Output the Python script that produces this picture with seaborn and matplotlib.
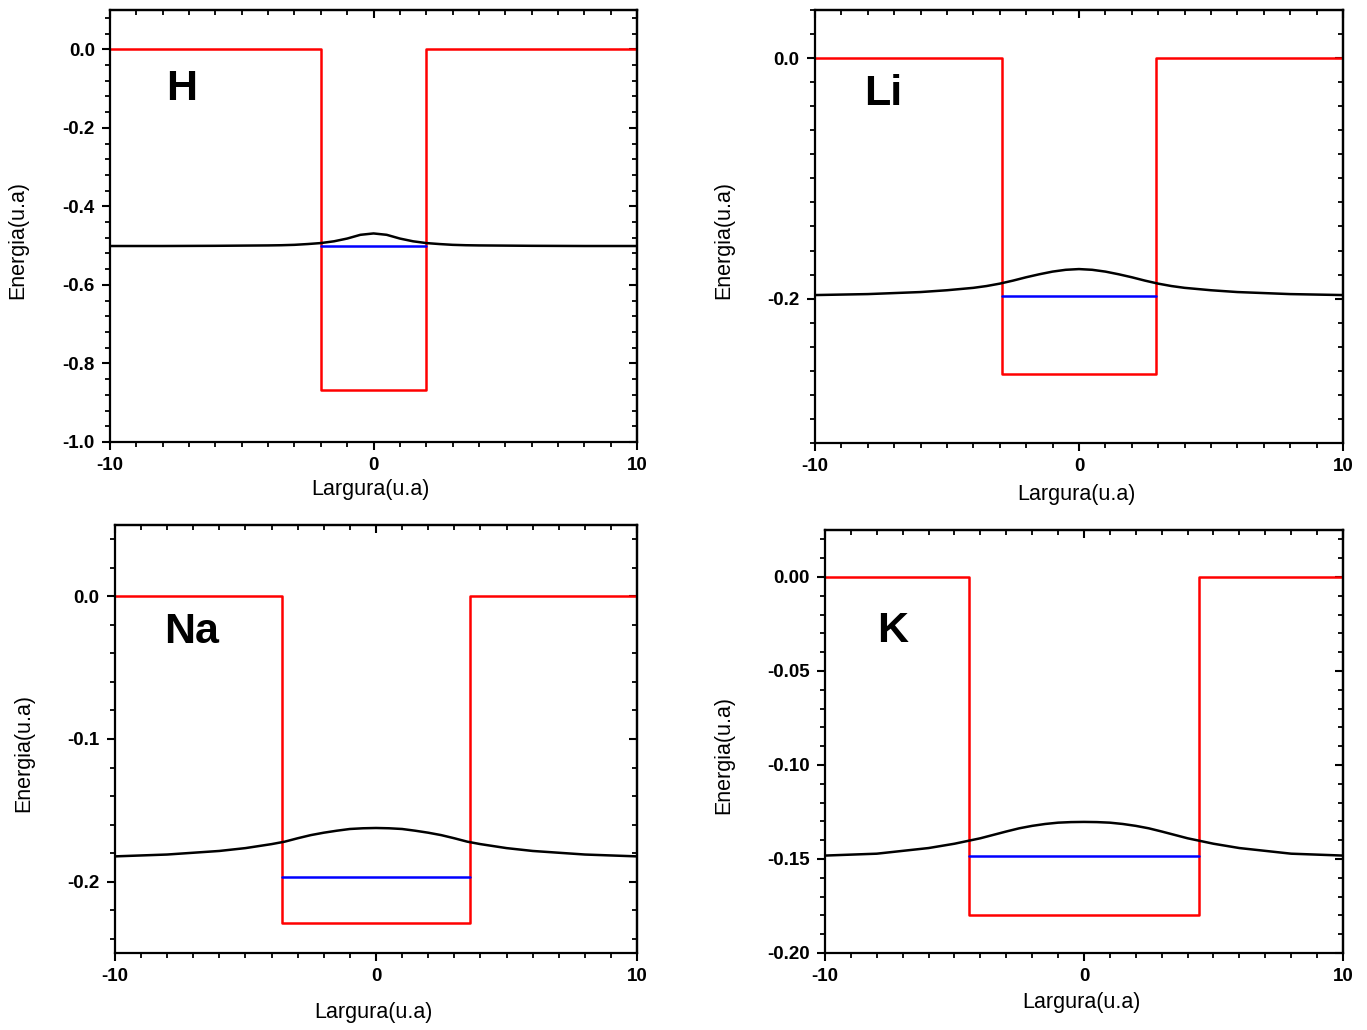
import numpy as np
import pandas as pd
import seaborn as sns
import matplotlib.pyplot as plt
from matplotlib.ticker import MultipleLocator, FormatStrFormatter

sns.set_style('ticks')
plt.rcParams['font.family'] = ['Liberation Sans', 'DejaVu Sans']
plt.rcParams['axes.unicode_minus'] = False
for key in ['text.color', 'axes.labelcolor', 'xtick.color', 'ytick.color', 'axes.edgecolor']:
    plt.rcParams[key] = 'black'

# Values
elements = ['H', 'Li', 'Na', 'K']
well_half_width = [2.0, 2.9, 3.6, 4.45]
well_depth = [-0.868, -0.263, -0.229, -0.180]
energy_level = [-0.501, -0.198, -0.1965, -0.1482]

curve_x = [-10, -8, -6, -5, -4, -3.5, -3, -2.5, -2, -1.5, -1, -0.5, 0,
           0.5, 1, 1.5, 2, 2.5, 3, 3.5, 4, 5, 6, 8, 10]
curve_H = [-0.501, -0.501, -0.5005, -0.500, -0.4995, -0.499, -0.498, -0.496,
           -0.4935, -0.489, -0.482, -0.4725, -0.469,
           -0.4725, -0.482, -0.489, -0.4935, -0.496, -0.498, -0.499, -0.4995,
           -0.500, -0.5005, -0.501, -0.501]
curve_Li = [-0.197, -0.1962, -0.1945, -0.1930, -0.1910, -0.1895, -0.1875, -0.1850,
            -0.1822, -0.1797, -0.1775, -0.1760, -0.1754,
            -0.1760, -0.1775, -0.1797, -0.1822, -0.1850, -0.1875, -0.1895, -0.1910,
            -0.1930, -0.1945, -0.1962, -0.197]
curve_Na = [-0.1823, -0.1810, -0.1785, -0.1765, -0.1737, -0.1720, -0.1696, -0.1674,
            -0.1657, -0.1643, -0.1631, -0.1626, -0.1624,
            -0.1626, -0.1631, -0.1643, -0.1657, -0.1674, -0.1696, -0.1720, -0.1737,
            -0.1765, -0.1785, -0.1810, -0.1823]
curve_K = [-0.1482, -0.1472, -0.1442, -0.1419, -0.1390, -0.1372, -0.1354, -0.1337,
           -0.1324, -0.1314, -0.1307, -0.1304, -0.1303,
           -0.1304, -0.1307, -0.1314, -0.1324, -0.1337, -0.1354, -0.1372, -0.1390,
           -0.1419, -0.1442, -0.1472, -0.1482]
curves = [curve_H, curve_Li, curve_Na, curve_K]

# per-panel axis settings
y_limits = [(-1.0, 0.1), (-0.32, 0.04), (-0.25, 0.05), (-0.2, 0.025)]
y_major = [0.2, 0.2, 0.1, 0.05]
y_minor = [0.04, 0.02, 0.02, 0.01]
y_fmt = ['%.1f', '%.1f', '%.1f', '%.2f']
label_pos = [(-7.3, -0.10), (-7.4, -0.030), (-7.05, -0.025), (-7.4, -0.029)]

axes_rect = [[0.0805, 0.5709, 0.3855, 0.4194],
             [0.5962, 0.5699, 0.3862, 0.4204],
             [0.0841, 0.0748, 0.3819, 0.4155],
             [0.6035, 0.0748, 0.3789, 0.4107]]
xlabel_y = [-0.111, -0.118, -0.140, -0.118]
ylabel_x = [-0.175, -0.172, -0.174, -0.195]

fig = plt.figure(figsize=(13.67, 10.30), dpi=100)

for i, el in enumerate(elements):
    ax = fig.add_axes(axes_rect[i])
    w = well_half_width[i]
    d = well_depth[i]
    well = pd.DataFrame({'x': [-10, -w, -w, w, w, 10],
                         'y': [0, 0, d, d, 0, 0]})
    level = pd.DataFrame({'x': [-w, w], 'y': [energy_level[i]] * 2})
    wave = pd.DataFrame({'x': curve_x, 'y': curves[i]})

    sns.lineplot(data=well, x='x', y='y', sort=False, estimator=None,
                 color='#ff0000', lw=1.8, ax=ax)
    sns.lineplot(data=level, x='x', y='y', sort=False, estimator=None,
                 color='#0000ff', lw=1.8, ax=ax)
    sns.lineplot(data=wave, x='x', y='y', sort=False, estimator=None,
                 color='black', lw=1.8, ax=ax)

    ax.set_xlim(-10, 10)
    ax.set_ylim(*y_limits[i])
    ax.xaxis.set_major_locator(MultipleLocator(10))
    ax.xaxis.set_minor_locator(MultipleLocator(1))
    ax.yaxis.set_major_locator(MultipleLocator(y_major[i]))
    ax.yaxis.set_minor_locator(MultipleLocator(y_minor[i]))
    ax.yaxis.set_major_formatter(FormatStrFormatter(y_fmt[i]))

    for s in ax.spines.values():
        s.set_linewidth(1.6)
    ax.tick_params(which='major', direction='out', length=6, width=1.5,
                   labelsize=13.5, pad=5)
    ax.tick_params(which='minor', direction='out', length=3.5, width=1.3)
    for t in ax.get_xticklabels() + ax.get_yticklabels():
        t.set_fontweight('bold')

    # mirrored ticks pointing inward on top and right
    top = ax.secondary_xaxis('top')
    top.xaxis.set_major_locator(MultipleLocator(10))
    top.xaxis.set_minor_locator(MultipleLocator(1))
    top.tick_params(which='major', direction='in', length=6, width=1.5, labeltop=False)
    top.tick_params(which='minor', direction='in', length=3.5, width=1.3)
    right = ax.secondary_yaxis('right')
    right.yaxis.set_major_locator(MultipleLocator(y_major[i]))
    right.yaxis.set_minor_locator(MultipleLocator(y_minor[i]))
    right.tick_params(which='major', direction='in', length=6, width=1.5, labelright=False)
    right.tick_params(which='minor', direction='in', length=3.5, width=1.3)
    top.spines['top'].set_linewidth(1.6)
    right.spines['right'].set_linewidth(1.6)

    ax.set_xlabel('Largura(u.a)', fontsize=15.5)
    ax.set_ylabel('Energia(u.a)', fontsize=15.5)
    ax.xaxis.label.set_va('center')
    ax.yaxis.label.set_va('center')
    ax.xaxis.set_label_coords(0.495, xlabel_y[i])
    ax.yaxis.set_label_coords(ylabel_x[i], 0.468)

    ax.text(label_pos[i][0], label_pos[i][1], el, fontsize=31, fontweight='bold',
            ha='center', va='center')

fig.savefig('out.png', dpi=100)
